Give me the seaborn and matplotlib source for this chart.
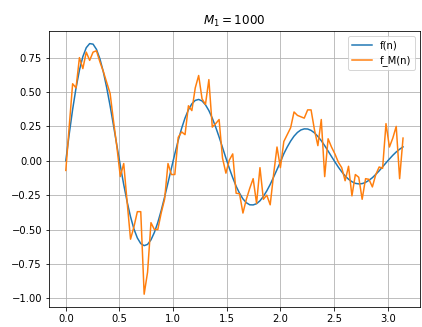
import numpy as np
import pandas as pd
import matplotlib
matplotlib.use("Agg")
import matplotlib.pyplot as plt
import seaborn as sns

# sample positions n (100 points over [0, pi])
n_values = np.linspace(0, np.pi, 100)

# smooth reference f(n)
f_values = [
    0.000, 0.194, 0.373, 0.529, 0.659, 0.757, 0.822, 0.852, 0.848, 0.810,
    0.742, 0.648, 0.532, 0.400, 0.257, 0.110, -0.035, -0.173, -0.298, -0.407,
    -0.496, -0.561, -0.602, -0.617, -0.608, -0.575, -0.521, -0.449, -0.362, -0.264,
    -0.160, -0.054, 0.050, 0.148, 0.236, 0.311, 0.371, 0.414, 0.439, 0.446,
    0.435, 0.407, 0.365, 0.310, 0.245, 0.173, 0.097, 0.020, -0.054, -0.123,
    -0.185, -0.236, -0.277, -0.305, -0.320, -0.321, -0.312, -0.291, -0.259, -0.219,
    -0.172, -0.119, -0.064, -0.009, 0.051, 0.100, 0.143, 0.179, 0.206, 0.224,
    0.232, 0.231, 0.221, 0.203, 0.177, 0.146, 0.110, 0.071, 0.031, -0.008,
    -0.046, -0.080, -0.110, -0.134, -0.152, -0.164, -0.168, -0.166, -0.157, -0.142,
    -0.123, -0.099, -0.073, -0.044, -0.015, 0.013, 0.040, 0.064, 0.084, 0.101,
]

# noisy estimate f_M(n)
fm_values = [
    -0.07, 0.25, 0.56, 0.53, 0.75, 0.67, 0.79, 0.73, 0.79, 0.80,
    0.72, 0.65, 0.57, 0.49, 0.29, 0.10, -0.115, -0.02, -0.30, -0.57,
    -0.48, -0.37, -0.37, -0.97, -0.81, -0.45, -0.50, -0.50, -0.38, -0.28,
    -0.02, -0.10, -0.10, 0.17, 0.21, 0.19, 0.40, 0.365, 0.53, 0.62,
    0.45, 0.41, 0.59, 0.245, 0.27, 0.30, 0.02, -0.09, 0.005, 0.05,
    -0.236, -0.24, -0.38, -0.28, -0.20, -0.13, -0.31, -0.05, -0.28, -0.25,
    -0.32, -0.10, 0.10, -0.05, 0.14, 0.19, 0.24, 0.355, 0.33, 0.32,
    0.31, 0.37, 0.37, 0.225, 0.11, 0.30, -0.115, 0.16, 0.10, 0.05,
    -0.01, -0.05, -0.145, -0.04, -0.255, -0.10, -0.12, -0.28, -0.13, -0.135,
    -0.19, -0.10, -0.045, -0.055, 0.27, 0.10, 0.165, 0.25, -0.13, 0.165,
]

df = pd.DataFrame({
    "n": np.concatenate([n_values, n_values]),
    "value": f_values + fm_values,
    "series": ["f(n)"] * len(n_values) + ["f_M(n)"] * len(n_values),
})

fig, ax = plt.subplots(figsize=(422 / 72, 327 / 72), dpi=72)
sns.lineplot(data=df, x="n", y="value", hue="series",
             palette=["#1f77b4", "#ff7f0e"], linewidth=1.5, ax=ax)

ax.set_title("$M_1 = 1000$")
ax.set_xlabel("")
ax.set_ylabel("")
ax.set_xticks([0.0, 0.5, 1.0, 1.5, 2.0, 2.5, 3.0])
ax.set_yticks([-1.0, -0.75, -0.5, -0.25, 0.0, 0.25, 0.5, 0.75])
ax.set_yticklabels([f"{v:.2f}".replace("-", "\u2212") for v in ax.get_yticks()])
ax.grid(True)
ax.legend(loc="upper right")

plt.subplots_adjust(left=0.116, right=0.995, bottom=0.062, top=0.905)
plt.savefig("out.png", dpi=72)
